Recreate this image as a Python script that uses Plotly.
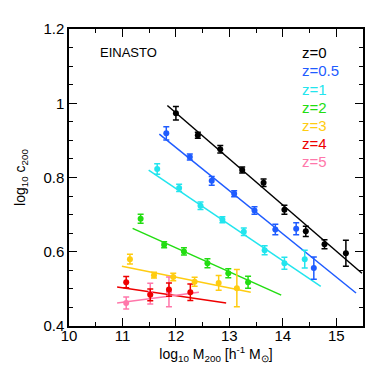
import plotly.graph_objects as go

# log10 M200 / log10 c200 for each redshift
z_labels = ["z=0", "z=0.5", "z=1", "z=2", "z=3", "z=4", "z=5"]
colors = ["#000000", "#1f5cff", "#22e5ee", "#22dd11", "#ffcc11", "#ee0000", "#ff77aa"]

mass = [
    [12.00, 12.41, 12.83, 13.24, 13.64, 14.03, 14.43, 14.78, 15.18],
    [11.82, 12.26, 12.67, 13.09, 13.47, 13.86, 14.25, 14.58],
    [11.65, 12.06, 12.46, 12.87, 13.27, 13.66, 14.03, 14.41],
    [11.34, 11.78, 12.15, 12.59, 12.98, 13.35],
    [11.14, 11.59, 11.95, 12.35, 12.80, 13.14],
    [11.07, 11.52, 11.87, 12.27],
    [11.07, 11.52, 11.87],
]
conc = [
    [0.973, 0.914, 0.876, 0.820, 0.786, 0.713, 0.655, 0.620, 0.596],
    [0.919, 0.855, 0.791, 0.756, 0.711, 0.660, 0.662, 0.556],
    [0.823, 0.772, 0.724, 0.686, 0.654, 0.604, 0.569, 0.580],
    [0.689, 0.619, 0.601, 0.569, 0.542, 0.518],
    [0.580, 0.537, 0.532, 0.519, 0.516, 0.502],
    [0.518, 0.484, 0.498, 0.491],
    [0.462, 0.487, 0.492],
]
conc_err = [
    [0.018, 0.008, 0.010, 0.008, 0.010, 0.012, 0.014, 0.012, 0.035],
    [0.018, 0.008, 0.012, 0.008, 0.010, 0.014, 0.016, 0.030],
    [0.014, 0.010, 0.010, 0.008, 0.010, 0.012, 0.016, 0.024],
    [0.012, 0.008, 0.010, 0.012, 0.012, 0.016],
    [0.013, 0.008, 0.010, 0.012, 0.020, 0.050],
    [0.015, 0.016, 0.018, 0.022],
    [0.016, 0.028, 0.040],
]

# best-fit power-law lines: start/end mass and concentration
fit_x0 = [11.84, 11.69, 11.49, 11.19, 10.99, 10.90, 10.90]
fit_x1 = [15.48, 15.37, 14.71, 13.97, 13.40, 12.94, 12.43]
fit_y0 = [0.994, 0.917, 0.820, 0.663, 0.561, 0.505, 0.462]
fit_y1 = [0.542, 0.489, 0.507, 0.483, 0.491, 0.462, 0.491]

FONT = "Liberation Sans, Arial, sans-serif"

fig = go.Figure()

for i in range(len(z_labels)):
    fig.add_trace(go.Scatter(
        x=[fit_x0[i], fit_x1[i]], y=[fit_y0[i], fit_y1[i]],
        mode="lines", line=dict(color=colors[i], width=1.5),
        showlegend=False, hoverinfo="skip",
    ))
for i in range(len(z_labels) - 1, -1, -1):
    fig.add_trace(go.Scatter(
        x=mass[i], y=conc[i], mode="markers", name=z_labels[i],
        marker=dict(color=colors[i], size=6),
        error_y=dict(type="data", array=conc_err[i], color=colors[i],
                     thickness=1.5, width=3),
        showlegend=False,
    ))

fig.add_annotation(x=0.1, y=0.92, xref="paper", yref="paper", text="EINASTO",
                   showarrow=False, xanchor="left", yanchor="middle",
                   font=dict(family=FONT, size=13, color="black"))
for i, lab in enumerate(z_labels):
    fig.add_annotation(x=0.785, y=0.92 - i * 0.0612, xref="paper", yref="paper",
                       text=lab, showarrow=False, xanchor="left", yanchor="middle",
                       font=dict(family=FONT, size=15, color=colors[i]))

axis_common = dict(
    showline=True, linecolor="black", linewidth=1.5, mirror="allticks",
    ticks="inside", ticklen=8, tickwidth=1.2, tickcolor="black",
    showgrid=False, zeroline=False,
    tickfont=dict(family=FONT, size=15, color="black"),
)

fig.update_xaxes(
    range=[10, 15.5], dtick=1, tick0=10,
    ticklabelstandoff=-5,
    minor=dict(ticks="inside", dtick=0.5, ticklen=4, tickcolor="black", tickwidth=1.2),
    title=dict(text="log<sub>10</sub> M<sub>200</sub> [h<sup>-1</sup> M<sub>⊙</sub>]",
               font=dict(family=FONT, size=14, color="black"), standoff=6),
    **axis_common,
)
fig.update_yaxes(
    range=[0.4, 1.2], dtick=0.2, tick0=0.4,
    tickvals=[0.4, 0.6, 0.8, 1.0, 1.2], ticktext=["0.4", "0.6", "0.8", "1", "1.2"],
    minor=dict(ticks="inside", dtick=0.05, ticklen=4, tickcolor="black", tickwidth=1.2),
    title=dict(text="log<sub>10</sub> c<sub>200</sub>",
               font=dict(family=FONT, size=14, color="black"), standoff=14),
    **axis_common,
)

fig.update_layout(
    width=374, height=374,
    margin=dict(l=57, r=19, t=19, b=56),
    paper_bgcolor="white", plot_bgcolor="white",
    showlegend=False,
)

fig.write_html("out.html")
